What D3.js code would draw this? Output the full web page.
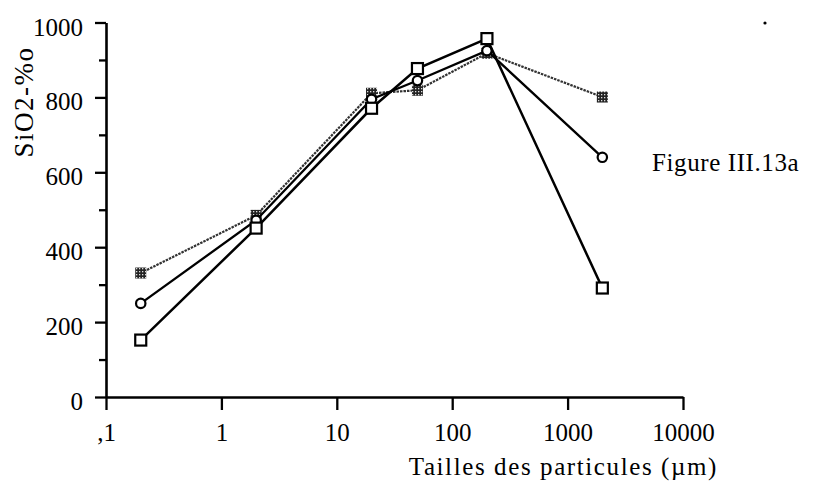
<!DOCTYPE html>
<html>
<head>
<meta charset="utf-8">
<script src="https://cdn.jsdelivr.net/npm/d3@7/dist/d3.min.js"></script>
<style>
  html, body { margin: 0; padding: 0; background: #fff; }
  svg { display: block; }
  svg text { font-family: "Liberation Serif", "DejaVu Serif", serif !important; fill: #000; }
</style>
</head>
<body>
<svg id="chart" width="819" height="484"></svg>
<script>
// Particle size classes (µm)
const tailles = [0.2, 2, 20, 50, 200, 2000];
// SiO2 content (‰) for each sample series
const serieCarres = [152, 451, 771, 877, 957, 291];
const serieCercles = [250, 472, 795, 845, 925, 640];
const serieTramee = [331, 485, 811, 819, 918, 801];

const xTicks = [0.1, 1, 10, 100, 1000, 10000];
const xTickLabels = [",1", "1", "10", "100", "1000", "10000"];
const yMajorTicks = [0, 200, 400, 600, 800, 1000];
const yMinorTicks = [100, 300, 500, 700, 900];

const svg = d3.select("#chart");

const x = d3.scaleLog().domain([0.1, 10000]).range([106, 683]);
const y = d3.scaleLinear().domain([0, 1000]).range([397, 22.5]);

// Fine grid texture for the third series' markers
const defs = svg.append("defs");
const pat = defs.append("pattern")
  .attr("id", "trame").attr("patternUnits", "userSpaceOnUse")
  .attr("width", 3).attr("height", 3);
pat.append("rect").attr("width", 3).attr("height", 3).attr("fill", "#222");
pat.append("rect").attr("x", 1).attr("y", 1).attr("width", 1.3).attr("height", 1.3).attr("fill", "#ddd");

// Y axis: labelled major ticks, shorter minor ticks
const yAxis = svg.append("g").attr("transform", "translate(106,0)")
  .call(d3.axisLeft(y).tickValues(yMajorTicks).tickSize(11).tickSizeOuter(0).tickPadding(12)
    .tickFormat(d3.format("d")));
svg.append("g").attr("transform", "translate(106,0)")
  .call(d3.axisLeft(y).tickValues(yMinorTicks).tickSize(7).tickSizeOuter(0).tickFormat(""))
  .select(".domain").remove();

// X axis (log)
const xAxis = svg.append("g").attr("transform", "translate(0,397)")
  .call(d3.axisBottom(x).tickValues(xTicks).tickSize(13).tickSizeOuter(0).tickPadding(13)
    .tickFormat((d, i) => xTickLabels[i]));

svg.selectAll(".domain").attr("stroke", "#000").attr("stroke-width", 2.6);
svg.selectAll(".tick line").attr("stroke", "#000").attr("stroke-width", 2.3);
svg.selectAll(".tick text").attr("font-size", 25).attr("fill", "#000");
yAxis.selectAll(".tick text").attr("dy", "0.5em");

// Axis titles
svg.append("text")
  .attr("transform", "translate(33,102) rotate(-90)")
  .attr("text-anchor", "middle").attr("font-size", 27).attr("letter-spacing", 1.5)
  .text("SiO2-%o");
svg.append("text")
  .attr("x", 718).attr("y", 475).attr("text-anchor", "end").attr("font-size", 25)
  .attr("letter-spacing", 1.6)
  .text("Tailles des particules (µm)");

// Figure caption
svg.append("text")
  .attr("x", 652).attr("y", 171).attr("font-size", 25).attr("letter-spacing", 0.6)
  .text("Figure III.13a");
svg.append("circle").attr("cx", 765).attr("cy", 23).attr("r", 1.6).attr("fill", "#000");

const line = d3.line().x(d => x(d[0])).y(d => y(d[1]));
const pts = vals => tailles.map((t, i) => [t, vals[i]]);

// Series 3: textured line and markers
svg.append("path").datum(pts(serieTramee)).attr("d", line)
  .attr("fill", "none").attr("stroke", "#333").attr("stroke-width", 2.2)
  .attr("stroke-dasharray", "2.5,1");
svg.append("g").selectAll("rect").data(pts(serieTramee)).join("rect")
  .attr("x", d => x(d[0]) - 5.5).attr("y", d => y(d[1]) - 5.5)
  .attr("width", 11).attr("height", 11).attr("fill", "url(#trame)");

// Series 2: circles
svg.append("path").datum(pts(serieCercles)).attr("d", line)
  .attr("fill", "none").attr("stroke", "#000").attr("stroke-width", 2.3);
svg.append("g").selectAll("circle").data(pts(serieCercles)).join("circle")
  .attr("cx", d => x(d[0])).attr("cy", d => y(d[1])).attr("r", 4.7)
  .attr("fill", "#fff").attr("stroke", "#000").attr("stroke-width", 2.2);

// Series 1: open squares
svg.append("path").datum(pts(serieCarres)).attr("d", line)
  .attr("fill", "none").attr("stroke", "#000").attr("stroke-width", 2.5);
svg.append("g").selectAll("rect").data(pts(serieCarres)).join("rect")
  .attr("x", d => x(d[0]) - 5.5).attr("y", d => y(d[1]) - 5.5)
  .attr("width", 11).attr("height", 11)
  .attr("fill", "#fff").attr("stroke", "#000").attr("stroke-width", 2.2);
</script>
</body>
</html>
